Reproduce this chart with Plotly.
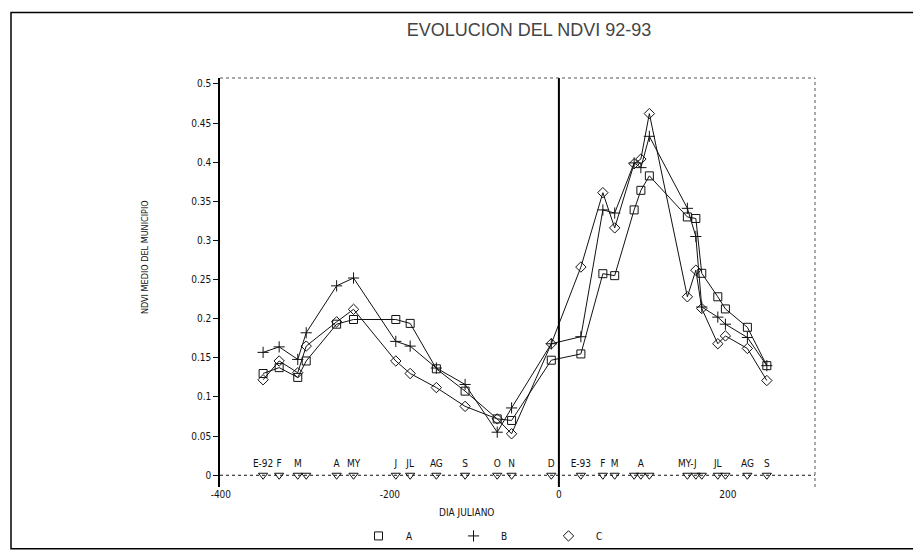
import plotly.graph_objects as go

# ---- data ----
dias = [-350, -331, -309, -299, -263, -243, -193, -176, -145, -111, -73, -56, -9,
        26, 52, 66, 89, 97, 107, 152, 162, 169, 188, 197, 223, 246]
etiquetas = ["E-92", "F", "M", "", "A", "MY", "J", "JL", "AG", "S", "O", "N", "D",
             "E-93", "F", "M", "", "A", "", "MY-J", "", "", "JL", "", "AG", "S"]
serie_a = [0.130, 0.1375, 0.125, 0.146, 0.193, 0.199, 0.199, 0.194, 0.136, 0.1075, 0.072, 0.070, 0.147,
           0.155, 0.2575, 0.255, 0.339, 0.364, 0.3825, 0.330, 0.328, 0.258, 0.228, 0.2125, 0.189, 0.140]
serie_b = [0.157, 0.164, 0.148, 0.182, 0.242, 0.252, 0.171, 0.165, 0.137, 0.116, 0.055, 0.086, 0.168,
           0.177, 0.339, 0.335, 0.399, 0.393, 0.433, 0.341, 0.305, 0.215, 0.202, 0.193, 0.176, 0.140]
serie_c = [0.122, 0.146, 0.131, 0.165, 0.196, 0.212, 0.146, 0.130, 0.112, 0.088, 0.072, 0.053, 0.168,
           0.266, 0.361, 0.316, 0.398, 0.404, 0.462, 0.228, 0.262, 0.213, 0.168, 0.178, 0.162, 0.121]
x_ticks = [-400, -200, 0, 200]
y_ticks = [0, 0.05, 0.1, 0.15, 0.2, 0.25, 0.3, 0.35, 0.4, 0.45, 0.5]
y_ticklabels = ["0", "0.05", "0.1", "0.15", "0.2", "0.25", "0.3", "0.35", "0.4", "0.45", "0.5"]
nombres = ["A", "B", "C"]

FONT = "Liberation Sans Narrow, DejaVu Sans Condensed, Liberation Sans, sans-serif"
INK = "#111111"

W, H = 921, 554
L, R, T, B = 212, 807, 70, 488  # plot area in pixels

def px(xp):
    return (xp - L) / (R - L)

def py(yp):
    return (B - yp) / (B - T)

fig = go.Figure()

simbolos = ["square-open", "cross-thin-open", "diamond-open"]
for nombre, vals, sym in zip(nombres, [serie_a, serie_b, serie_c], simbolos):
    fig.add_trace(go.Scatter(
        x=dias, y=vals, mode="lines+markers", showlegend=False,
        line=dict(color=INK, width=1),
        marker=dict(symbol=sym, size=8, color=INK, line=dict(color=INK, width=1)),
    ))

# date markers on the zero line
fig.add_trace(go.Scatter(
    x=dias, y=[0] * len(dias), mode="markers+text", showlegend=False,
    text=etiquetas, textposition="top center",
    textfont=dict(family=FONT, size=10, color=INK),
    marker=dict(symbol="triangle-down-open", size=8, color=INK, line=dict(color=INK, width=1)),
))

# legend-only traces
for nombre, sym in zip(nombres, simbolos):
    fig.add_trace(go.Scatter(
        x=[None], y=[None], mode="markers", name=nombre,
        marker=dict(symbol=sym, size=8, color=INK, line=dict(color=INK, width=1)),
    ))

shapes = [
    dict(type="line", xref="paper", yref="y", x0=0, x1=1, y0=0, y1=0,
         line=dict(color=INK, width=1, dash="dot")),
    dict(type="line", xref="x", yref="paper", x0=0, x1=0, y0=0, y1=1,
         line=dict(color="black", width=2)),
    dict(type="line", xref="paper", yref="paper", x0=0, x1=1, y0=1, y1=1,
         line=dict(color="#555", width=1, dash="dot")),
    dict(type="line", xref="paper", yref="paper", x0=1, x1=1, y0=0, y1=1,
         line=dict(color="#555", width=1, dash="dot")),
    dict(type="rect", xref="paper", yref="paper",
         x0=px(3), x1=px(918), y0=py(551), y1=py(3),
         line=dict(color="black", width=1.5)),
]

annotations = [
    dict(text="NDVI MEDIO DEL MUNICIPIO", xref="paper", yref="paper",
         x=px(130), y=py(253), textangle=-90, showarrow=False,
         font=dict(family=FONT, size=9, color=INK)),
    dict(text="DIA JULIANO", xref="paper", yref="paper",
         x=px(458), y=py(522), showarrow=False,
         font=dict(family=FONT, size=10, color=INK)),
]

fig.update_layout(
    width=W, height=H,
    margin=dict(l=L, r=W - R, t=T, b=H - B),
    paper_bgcolor="white", plot_bgcolor="white",
    title=dict(text="EVOLUCION DEL NDVI 92-93", x=521 / W, xanchor="center",
               y=1 - 22 / H, yanchor="middle",
               font=dict(family="Liberation Sans, sans-serif", size=18, color="#444")),
    xaxis=dict(range=[-401, 303], tickvals=x_ticks, ticktext=[str(v) for v in x_ticks],
               showgrid=False, zeroline=False, showline=False, ticks="",
               tickfont=dict(family=FONT, size=10, color=INK)),
    yaxis=dict(range=[-0.015, 0.5075], tickvals=y_ticks, ticktext=y_ticklabels,
               showgrid=False, zeroline=False, showline=True, linecolor="black", linewidth=1.5,
               ticks="outside", ticklen=5, tickcolor=INK,
               tickfont=dict(family=FONT, size=10, color=INK)),
    legend=dict(orientation="h", x=px(343), xanchor="left", y=py(538), yanchor="middle",
                itemwidth=45, entrywidth=35, entrywidthmode="pixels",
                font=dict(family=FONT, size=10, color=INK), bgcolor="rgba(0,0,0,0)"),
    shapes=shapes, annotations=annotations,
)

fig.write_html("out.html")
